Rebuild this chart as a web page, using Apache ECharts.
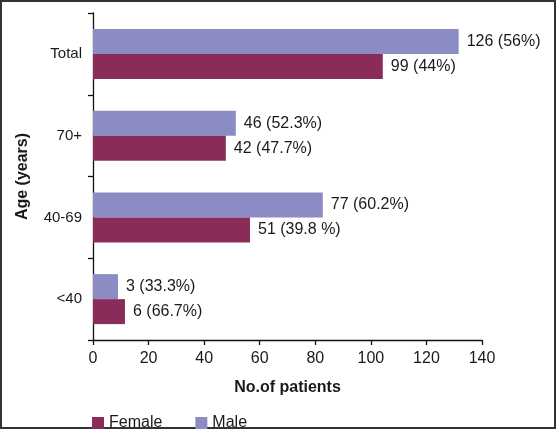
<!DOCTYPE html>
<html>
<head>
<meta charset="utf-8">
<script src="https://cdn.jsdelivr.net/npm/echarts@6/dist/echarts.min.js"></script>
<style>
html,body{margin:0;padding:0;background:#fff;}
#chart{width:557px;height:430px;}
</style>
</head>
<body>
<div id="chart"></div>
<script>
// Categories (bottom to top)
const categories = ['<40', '40-69', '70+', 'Total'];
// Bar lengths as drawn in the picture
const femaleValues = [11.5, 56.5, 47.8, 104.3];
const maleValues = [9.0, 82.7, 51.4, 131.6];
// Printed bar labels
const femaleLabels = ['6 (66.7%)', '51 (39.8 %)', '42 (47.7%)', '99 (44%)'];
const maleLabels = ['3 (33.3%)', '77 (60.2%)', '46 (52.3%)', '126 (56%)'];
// Axis ticks
const xTicks = [0, 20, 40, 60, 80, 100, 120, 140];

const FONT = '"Liberation Sans", Arial, Helvetica, sans-serif';
const chart = echarts.init(document.getElementById('chart'), null, {renderer: 'canvas'});

const labelStyle = (labels) => ({
  show: true,
  position: 'right',
  distance: 8,
  fontFamily: FONT,
  fontSize: 16,
  color: '#1a1a1a',
  formatter: (p) => labels[p.dataIndex]
});

chart.setOption({
  animation: false,
  backgroundColor: '#fff',
  grid: {left: 93, right: 75, top: 13, bottom: 90, containLabel: false},
  xAxis: {
    type: 'value',
    min: xTicks[0],
    max: xTicks[xTicks.length - 1],
    interval: 20,
    name: 'No.of patients',
    nameLocation: 'middle',
    nameGap: 40,
    nameTextStyle: {fontFamily: FONT, fontSize: 16, fontWeight: 'bold', color: '#1a1a1a'},
    axisLine: {show: true, lineStyle: {color: '#111', width: 1.3}},
    axisTick: {show: true, length: 5, lineStyle: {color: '#111', width: 1.3}},
    axisLabel: {fontFamily: FONT, fontSize: 16, color: '#1a1a1a', margin: 11},
    splitLine: {show: false}
  },
  yAxis: {
    type: 'category',
    data: categories,
    name: 'Age (years)',
    nameLocation: 'middle',
    nameGap: 62,
    nameRotate: 90,
    nameTextStyle: {fontFamily: FONT, fontSize: 16, fontWeight: 'bold', color: '#1a1a1a'},
    axisLine: {show: true, lineStyle: {color: '#111', width: 1.3}},
    axisTick: {show: true, length: 5, lineStyle: {color: '#111', width: 1.3}},
    axisLabel: {fontFamily: FONT, fontSize: 15, color: '#1a1a1a', margin: 11},
    splitLine: {show: false}
  },
  legend: {
    left: 87,
    top: 410,
    itemWidth: 12,
    itemHeight: 12,
    itemGap: 33,
    icon: 'rect',
    textStyle: {fontFamily: FONT, fontSize: 16, color: '#1a1a1a'},
    data: ['Female', 'Male']
  },
  series: [
    {
      name: 'Male', type: 'bar', data: maleValues,
      barWidth: 25, barGap: '0%',
      itemStyle: {color: '#8c8cc4'},
      label: labelStyle(maleLabels)
    },
    {
      name: 'Female', type: 'bar', data: femaleValues,
      barWidth: 25, barGap: '0%',
      itemStyle: {color: '#8a2c5a'},
      label: labelStyle(femaleLabels)
    }
  ],
  graphic: [{
    type: 'rect',
    shape: {x: 1, y: 1, width: 554, height: 427},
    style: {fill: 'none', stroke: '#333', lineWidth: 2},
    silent: true
  }]
});
</script>
</body>
</html>
